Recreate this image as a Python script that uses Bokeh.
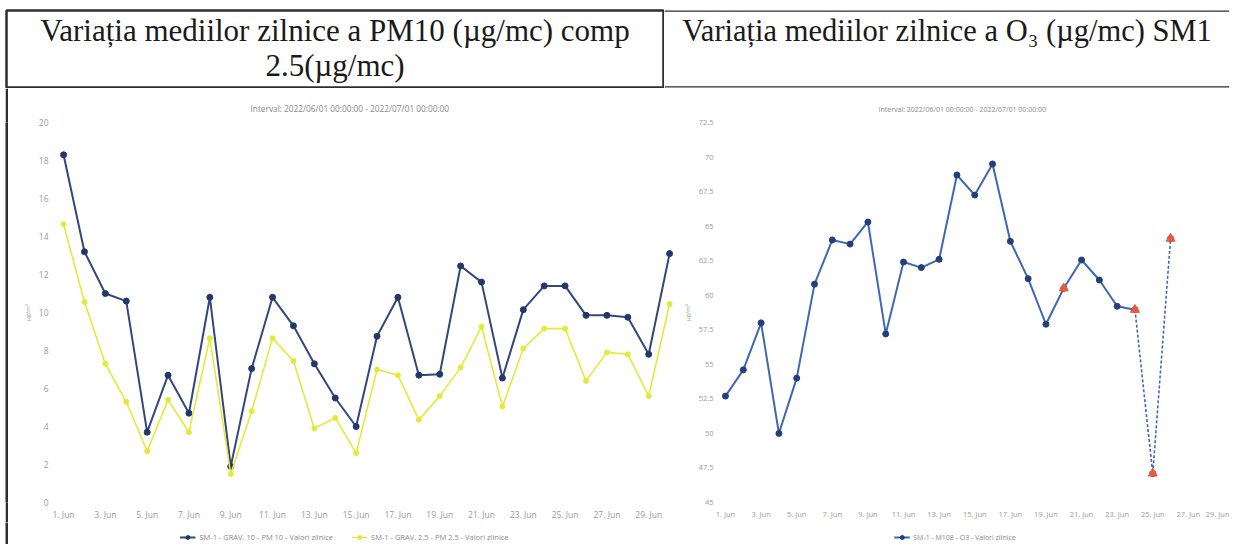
from bokeh.plotting import figure
from bokeh.models import Range1d, FixedTicker, Legend, LegendItem, Label, Span
from bokeh.layouts import column, row
from bokeh.embed import file_html
from bokeh.resources import INLINE

# ---------------- data ----------------
days = [1, 2, 3, 4, 5, 6, 7, 8, 9, 10, 11, 12, 13, 14, 15,
        16, 17, 18, 19, 20, 21, 22, 23, 24, 25, 26, 27, 28, 29, 30]
pm10 = [18.3, 13.2, 11.0, 10.6, 3.7, 6.7, 4.7, 10.8, 1.9, 7.05, 10.8, 9.3, 7.3, 5.5, 4.0,
        8.75, 10.8, 6.7, 6.75, 12.45, 11.6, 6.55, 10.15, 11.4, 11.4, 9.85, 9.85, 9.75, 7.8, 13.1]
pm25 = [14.65, 10.55, 7.3, 5.3, 2.7, 5.4, 3.7, 8.65, 1.5, 4.8, 8.65, 7.45, 3.9, 4.45, 2.6,
        7.0, 6.7, 4.35, 5.6, 7.1, 9.25, 5.05, 8.1, 9.15, 9.15, 6.4, 7.9, 7.8, 5.6, 10.45]
o3_days = [1, 2, 3, 4, 5, 6, 7, 8, 9, 10, 11, 12, 13, 14, 15,
           16, 17, 18, 19, 20, 21, 22, 23, 24, 25, 26]
o3 = [52.7, 54.6, 58.0, 50.0, 54.0, 60.8, 64.0, 63.7, 65.3, 57.2, 62.4, 62.0, 62.6,
      68.7, 67.25, 69.5, 63.9, 61.2, 57.9, 60.5, 62.55, 61.1, 59.2, 58.95, 47.1, 64.1]
o3_flagged_days = [20, 24, 25, 26]
tick_days = [1, 3, 5, 7, 9, 11, 13, 15, 17, 19, 21, 23, 25, 27, 29]
tick_labels = ["1. Jun", "3. Jun", "5. Jun", "7. Jun", "9. Jun", "11. Jun", "13. Jun", "15. Jun",
               "17. Jun", "19. Jun", "21. Jun", "23. Jun", "25. Jun", "27. Jun", "29. Jun"]
pm_yticks = [0, 2, 4, 6, 8, 10, 12, 14, 16, 18, 20]
o3_yticks = [45, 47.5, 50, 52.5, 55, 57.5, 60, 62.5, 65, 67.5, 70, 72.5]

header_left = ["Variația mediilor zilnice a PM10 (µg/mc) comp", "2.5(µg/mc)"]
header_right = "Variația mediilor zilnice a O₃ (µg/mc) SM1"
subtitle = "Interval: 2022/06/01 00:00:00 - 2022/07/01 00:00:00"
unit = "µg/m³"
pm10_name = "SM-1 - GRAV. 10 - PM 10 - Valori zilnice"
pm25_name = "SM-1 - GRAV. 2.5 - PM 2.5 - Valori zilnice"
o3_name = "SM-1 - M108 - O3 - Valori zilnice"

# ---------------- style ----------------
FONT = "Open Sans"
SERIF = "Liberation Serif"
BORDER = "#2e2e2e"
TICK_C = "#9a9a9a"
PM10_C = "#33477d"
PM10_M = "#23386a"
PM25_C = "#e4ea3c"
O3_C = "#3f68b0"
O3_M = "#22407a"
FLAG_C = "#ec5a3a"

HDR_H = 88
CH_H = 434
LEG_H = 22
W_L = 672
W_R = 549


def blank(f):
    f.axis.visible = False
    f.grid.visible = False
    f.outline_line_color = None
    return f


def edge_fig(h):
    e = blank(figure(width=3, height=h, x_range=Range1d(0, 1), y_range=Range1d(0, 1),
                     toolbar_location=None, output_backend="svg", min_border=0))
    e.background_fill_color = BORDER
    e.border_fill_color = BORDER
    e.margin = (0, 0, 0, 5)
    return e


# ---------- header row ----------
hL = blank(figure(width=664, height=HDR_H, x_range=Range1d(0, 1), y_range=Range1d(0, 1),
                  toolbar_location=None, output_backend="svg",
                  min_border_left=6, min_border_right=1, min_border_top=10, min_border_bottom=1))
hL.outline_line_color = BORDER
hL.outline_line_width = 2.5
hL.add_layout(Label(x=0.5, y=0.74, text=header_left[0], text_align="center",
                    text_baseline="middle", text_font=SERIF, text_font_size="31px",
                    text_color="#1a1a1a"))
hL.add_layout(Label(x=0.5, y=0.29, text=header_left[1], text_align="center",
                    text_baseline="middle", text_font=SERIF, text_font_size="31px",
                    text_color="#1a1a1a"))

hR = blank(figure(width=565, height=HDR_H, x_range=Range1d(0, 1), y_range=Range1d(0, 1),
                  toolbar_location=None, output_backend="svg",
                  min_border_left=0, min_border_right=0, min_border_top=10, min_border_bottom=1))
hR.add_layout(Span(location=0, dimension="width", line_color=BORDER, line_width=2.5))
hR.add_layout(Span(location=1, dimension="width", line_color=BORDER, line_width=2.5))
hR.add_layout(Label(x=0.5, y=0.74, text=header_right, text_align="center",
                    text_baseline="middle", text_font=SERIF, text_font_size="30.5px",
                    text_color="#1a1a1a"))


def style_chart(p, yticks, tick_size, title_size, title_offset, ystandoff):
    p.grid.visible = False
    p.outline_line_color = None
    p.title.text = subtitle
    p.title.align = "left"
    p.title.offset = title_offset
    p.title.standoff = 17
    p.title.text_font = FONT
    p.title.text_font_size = title_size
    p.title.text_font_style = "normal"
    p.title.text_color = "#8a8a8a"
    p.xaxis.ticker = FixedTicker(ticks=tick_days)
    p.xaxis.major_label_overrides = {d: l for d, l in zip(tick_days, tick_labels)}
    p.yaxis.ticker = FixedTicker(ticks=yticks)
    for ax in (p.xaxis, p.yaxis):
        ax.axis_line_color = None
        ax.major_tick_line_color = None
        ax.minor_tick_line_color = None
        ax.major_tick_out = 0
        ax.major_tick_in = 0
        ax.minor_tick_out = 0
        ax.minor_tick_in = 0
        ax.major_label_text_font = FONT
        ax.major_label_text_font_size = tick_size
        ax.major_label_text_color = TICK_C
    p.xaxis.major_label_standoff = 6
    p.yaxis.major_label_standoff = ystandoff
    p.yaxis.axis_label = unit
    p.yaxis.axis_label_text_font = FONT
    p.yaxis.axis_label_text_font_size = "6px"
    p.yaxis.axis_label_text_font_style = "normal"
    p.yaxis.axis_label_text_color = TICK_C
    p.yaxis.axis_label_standoff = 4


# ---------- left chart ----------
pL = figure(width=W_L, height=CH_H, x_range=Range1d(0.71, 30.33), y_range=Range1d(0, 20),
            toolbar_location=None, output_backend="svg",
            min_border_left=49, min_border_right=4, min_border_top=34, min_border_bottom=18)
style_chart(pL, pm_yticks, "8.5px", "8.3px", 193, 9)
pL.line(days, pm10, line_color=PM10_C, line_width=2)
pL.scatter(days, pm10, size=6, marker="circle", fill_color=PM10_M, line_color=PM10_M)
pL.line(days, pm25, line_color=PM25_C, line_width=1.6)
pL.scatter(days, pm25, size=5, marker="circle", fill_color=PM25_C, line_color=PM25_C)

# ---------- right chart ----------
pR = figure(width=W_R, height=CH_H, x_range=Range1d(0.607, 29.31), y_range=Range1d(45, 72.5),
            toolbar_location=None, output_backend="svg",
            min_border_left=38, min_border_right=0, min_border_top=34, min_border_bottom=18)
style_chart(pR, o3_yticks, "7.5px", "7px", 160, 5)
solid_n = o3_days.index(24) + 1
pR.line(o3_days[:solid_n], o3[:solid_n], line_color=O3_C, line_width=2)
pR.line(o3_days[solid_n - 1:], o3[solid_n - 1:], line_color=O3_C, line_width=1.6,
        line_dash="3 2")
pR.scatter(o3_days, o3, size=6, marker="circle", fill_color=O3_M, line_color=O3_M)
flag_vals = [o3[o3_days.index(d)] for d in o3_flagged_days]
pR.scatter(o3_flagged_days, flag_vals, size=9, marker="triangle", fill_color=FLAG_C,
           line_color=FLAG_C)


# ---------- legend strips (below the x axes) ----------
# The same series are drawn again here, out of this strip's view range, only so
# that the legend has real renderers (with data) to draw its symbols from.
def legend_fig(w, entries, font_size):
    f = blank(figure(width=w, height=LEG_H, x_range=Range1d(-2, -1), y_range=Range1d(-2, -1),
                     toolbar_location=None, output_backend="svg", min_border=0))
    items = []
    for name, xs, ys, lc, mc, lw, ms in entries:
        r1 = f.line(xs, ys, line_color=lc, line_width=lw)
        r2 = f.scatter(xs, ys, size=ms, marker="circle", fill_color=mc, line_color=mc)
        items.append(LegendItem(label=name, renderers=[r1, r2]))
    leg = Legend(items=items, orientation="horizontal", location="bottom_center",
                 spacing=18, padding=0, margin=2, glyph_width=16, glyph_height=10,
                 label_standoff=4, label_text_font=FONT, label_text_font_size=font_size,
                 label_text_color="#8a8a8a", border_line_color=None,
                 background_fill_alpha=0)
    f.add_layout(leg, "center")
    return f


lfL = legend_fig(W_L, [(pm10_name, days, pm10, PM10_C, PM10_M, 2, 6),
                       (pm25_name, days, pm25, PM25_C, PM25_C, 1.6, 5)], "7.5px")
lfR = legend_fig(W_R, [(o3_name, o3_days, o3, O3_C, O3_M, 2, 6)], "7px")

layout = column(row(hL, hR),
                row(edge_fig(CH_H), pL, pR),
                row(edge_fig(LEG_H), lfL, lfR))
open("out.html", "w").write(file_html(layout, INLINE))
